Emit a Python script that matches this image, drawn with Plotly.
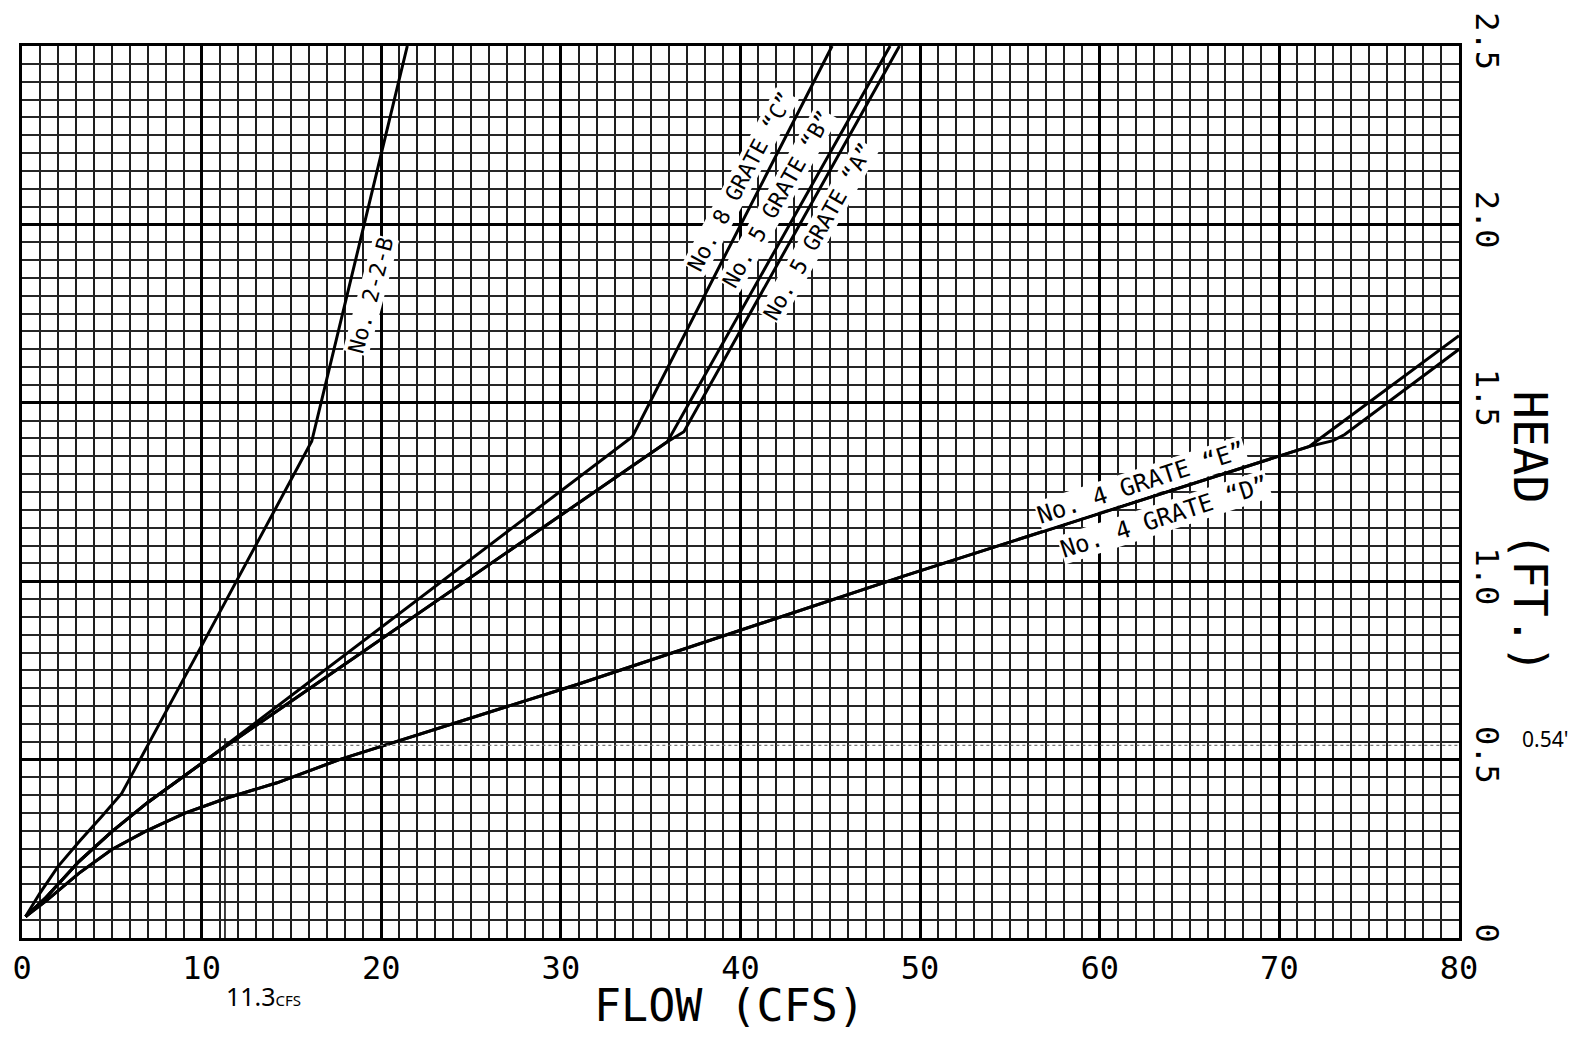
import plotly.graph_objects as go

# ---- data: head (ft) vs. flow (cfs) for each grate type ----
flow_22B = [0.2, 1.0, 2.0, 3.2, 4.45, 5.55, 10.74, 16.13, 21.45]
head_22B = [0.06, 0.126, 0.20, 0.271, 0.341, 0.405, 0.888, 1.392, 2.5]

flow_8C = [0.2, 1.36, 3.18, 5.0, 7.0, 9.0, 10.45, 33.98, 45.1]
head_8C = [0.06, 0.115, 0.215, 0.298, 0.380, 0.452, 0.506, 1.405, 2.5]

flow_5B = [0.2, 1.36, 3.18, 5.0, 7.0, 9.0, 10.45, 35.93, 48.33]
head_5B = [0.06, 0.115, 0.215, 0.298, 0.380, 0.452, 0.506, 1.391, 2.5]

flow_5A = [0.2, 1.36, 3.18, 5.0, 7.0, 9.0, 10.45, 35.93, 36.85, 48.85]
head_5A = [0.06, 0.115, 0.215, 0.298, 0.380, 0.452, 0.506, 1.391, 1.419, 2.5]

flow_4E = [0.2, 1.36, 3.18, 5.0, 6.87, 9.07, 11.45, 14.2, 17.67, 30.99, 49.12, 69.6, 71.68, 80.0]
head_4E = [0.06, 0.105, 0.182, 0.248, 0.299, 0.350, 0.393, 0.435, 0.5, 0.712, 1.015, 1.345, 1.378, 1.688]

flow_4D = [0.2, 1.36, 3.18, 5.0, 6.87, 9.07, 11.45, 14.2, 17.67, 30.99, 49.12, 69.6, 71.68, 72.99, 73.64, 80.0]
head_4D = [0.06, 0.105, 0.182, 0.248, 0.299, 0.350, 0.393, 0.435, 0.5, 0.712, 1.015, 1.345, 1.378, 1.394, 1.411, 1.65]

# design point noted on the sheet
design_flow = 11.3
design_head = 0.54

flow_ticks = [0, 10, 20, 30, 40, 50, 60, 70, 80]
flow_tick_text = ["0", "10", "20", "30", "40", "50", "60", "70", "80"]
head_ticks = [0, 0.5, 1.0, 1.5, 2.0, 2.5]
head_tick_text = ["0", "0.5", "1.0", "1.5", "2.0", "2.5"]

# curve labels: text, flow, head, angle, size
curve_labels = [
    ("No. 2-2-B", 19.44, 1.80, -75, 22),
    ("No. 8 GRATE \u201cC\u201d", 40.0, 2.12, -62, 22),
    ("No. 5 GRATE \u201cB\u201d", 42.05, 2.07, -60.5, 22),
    ("No. 5 GRATE \u201cA\u201d", 44.35, 1.98, -60.5, 22),
    ("No. 4 GRATE \u201cE\u201d", 62.3, 1.274, -18, 24),
    ("No. 4 GRATE \u201cD\u201d", 63.6, 1.180, -18, 24),
]

MONO = "DejaVu Sans Mono"

fig = go.Figure()

curves = [
    (flow_22B, head_22B),
    (flow_8C, head_8C),
    (flow_5B, head_5B),
    (flow_5A, head_5A),
    (flow_4E, head_4E),
    (flow_4D, head_4D),
]
for fx, hy in curves:
    fig.add_trace(go.Scatter(x=fx, y=hy, mode="lines",
                             line=dict(color="black", width=3),
                             hoverinfo="skip", showlegend=False))

# pencil lines marking the design flow and head
fig.add_trace(go.Scatter(x=[design_flow, design_flow], y=[0, design_head + 0.02],
                         mode="lines", line=dict(color="#111", width=1.6),
                         hoverinfo="skip", showlegend=False))
fig.add_trace(go.Scatter(x=[design_flow + 0.3, 80], y=[design_head, design_head],
                         mode="lines", line=dict(color="#777", width=1.4, dash="dot"),
                         hoverinfo="skip", showlegend=False))

for text, fx, hy, ang, sz in curve_labels:
    fig.add_annotation(x=fx, y=hy, xref="x", yref="y", text=text, textangle=ang,
                       xanchor="center", yanchor="middle",
                       showarrow=False, bgcolor="white", borderpad=0,
                       font=dict(family=MONO, size=sz, color="black"))

# axis title for head, reading top to bottom
fig.add_annotation(x=(1531 - 20) / 1439, y=(938 - 531) / 895, xref="paper", yref="paper",
                   text="HEAD (FT.)", textangle=90, showarrow=False,
                   xanchor="center", yanchor="middle",
                   font=dict(family=MONO, size=47, color="black"))

# axis title for flow
fig.add_annotation(x=(728 - 20) / 1439, y=(938 - 1006) / 895, xref="paper", yref="paper",
                   text="FLOW (CFS)", showarrow=False,
                   xanchor="center", yanchor="middle",
                   font=dict(family=MONO, size=45, color="black"))

# handwritten notes
fig.add_annotation(x=(262 - 20) / 1439, y=(938 - 996) / 895, xref="paper", yref="paper",
                   text="11.3<span style='font-size:15px'>CFS</span>",
                   xanchor="center", yanchor="middle",
                   showarrow=False, font=dict(family="Noto Sans", size=25, color="black"))
fig.add_annotation(x=(1545 - 20) / 1439, y=(938 - 738) / 895, xref="paper", yref="paper",
                   text="0.54'", showarrow=False,
                   xanchor="center", yanchor="middle",
                   font=dict(family="Noto Sans", size=21, color="black"))

fig.update_xaxes(
    range=[0, 80], tickvals=flow_ticks, ticktext=flow_tick_text,
    showgrid=True, gridcolor="black", gridwidth=2.6,
    minor=dict(dtick=1, tick0=0, showgrid=True, gridcolor="#1e1e1e", gridwidth=1.7),
    showline=True, linecolor="black", linewidth=3, mirror=True, zeroline=False,
    ticks="", ticklabelstandoff=0,
    tickfont=dict(family=MONO, size=32, color="black"),
)
fig.update_yaxes(
    range=[0, 2.5], side="right", tickvals=head_ticks, ticktext=head_tick_text,
    tickangle=90,
    showgrid=True, gridcolor="black", gridwidth=2.6,
    minor=dict(dtick=0.05, tick0=0, showgrid=True, gridcolor="#262626", gridwidth=1.7),
    showline=True, linecolor="black", linewidth=3, mirror=True, zeroline=False,
    ticks="", ticklabelstandoff=1,
    tickfont=dict(family=MONO, size=32, color="black"),
)

fig.update_layout(
    width=1585, height=1037,
    margin=dict(l=20, r=126, t=43, b=99),
    paper_bgcolor="white", plot_bgcolor="white",
    showlegend=False,
)

fig.write_html("out.html")
